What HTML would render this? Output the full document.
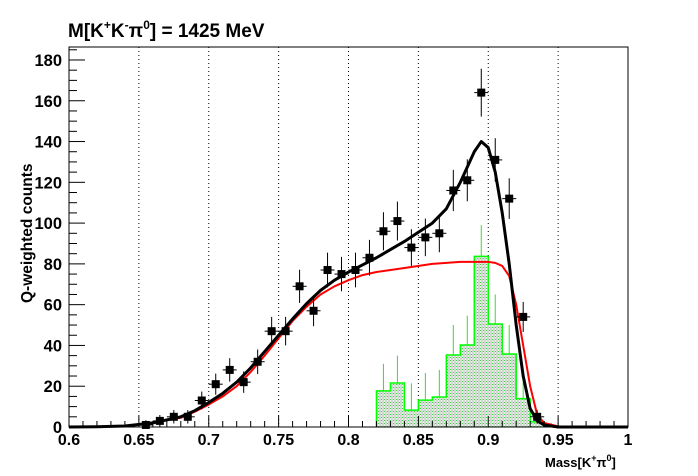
<!DOCTYPE html>
<html><head><style>body{margin:0;background:#fff}svg{display:block}</style></head>
<body>
<svg id="s" width="698" height="476" xmlns="http://www.w3.org/2000/svg" font-family="Liberation Sans, sans-serif" font-weight="bold">
<defs>
<pattern id="h" width="3" height="3" patternUnits="userSpaceOnUse">
<rect width="3" height="3" fill="#e8f4e8"/><rect width="1" height="1" fill="#4c4"/><rect x="1.5" y="1.5" width="1" height="1" fill="#888"/><rect x="1.5" y="0" width="1" height="1" fill="#bbb"/>
</pattern>
</defs>
<rect x="0" y="0" width="698" height="476" fill="#fff"/>
<g id="g"></g>
<text x="68" y="37" font-size="19">M[K<tspan font-size="12" dy="-8">+</tspan><tspan dy="8">K</tspan><tspan font-size="12" dy="-8">-</tspan><tspan dy="8">π</tspan><tspan font-size="12" dy="-8">0</tspan><tspan dy="8">] = 1425 MeV</tspan></text>
<text transform="translate(32,303) rotate(-90)" font-size="15.5">Q-weighted counts</text>
<text x="545" y="467" font-size="13">Mass[K<tspan font-size="9" dy="-6">+</tspan><tspan dy="6">π</tspan><tspan font-size="9" dy="-6">0</tspan><tspan dy="6">]</tspan></text>
</svg>
<script>
const X=v=>69+(v-0.6)*1397.5, Y=v=>427-v*2.039;
let h='';
for(let v of [0.65,0.7,0.75,0.8,0.85,0.9,0.95]) h+=`<line x1="${X(v)}" y1="47" x2="${X(v)}" y2="427" stroke="#000" stroke-dasharray="1,3" stroke-width="1"/>`;
const hb=[17.7,21.6,8.3,13.2,14.7,35.3,40.2,83.7,50.5,35.8,13.9,2.5,0.5];
const he=[31,35,21.4,26.5,28,50,54.6,99,65,50,24,8,2];
let p=`M${X(0.82)},427`;
hb.forEach((v,i)=>{p+=`L${X(0.82+i*0.01)},${Y(v)}L${X(0.83+i*0.01)},${Y(v)}`;});
p+=`L${X(0.95)},427L${X(1)},427`;
h+=`<path d="${p}" fill="url(#h)" stroke="#0f0" stroke-width="1.5"/>`;
hb.forEach((v,i)=>{const x=X(0.825+i*0.01);h+=`<line x1="${x}" y1="${Y(v)}" x2="${x}" y2="${Y(he[i])}" stroke="#3d3" stroke-width="1"/>`;});
const bk=[[0.6,0],[0.62,0.1],[0.64,0.5],[0.66,2],[0.68,5],[0.69,8],[0.70,12],[0.71,16.5],[0.72,22],[0.73,29],[0.74,37],[0.75,45],[0.76,53],[0.77,60.5],[0.78,67],[0.79,72],[0.80,76],[0.81,79.5],[0.82,83],[0.83,87],[0.84,91],[0.85,95.5],[0.86,100],[0.87,107],[0.88,120],[0.89,135],[0.895,140],[0.90,137],[0.905,125],[0.91,105],[0.915,80],[0.92,50],[0.925,25],[0.93,9],[0.935,3],[0.94,1],[0.95,0],[1,0]];
const rd=[[0.6,0],[0.62,0.1],[0.64,0.5],[0.66,2],[0.68,4.5],[0.69,7.5],[0.70,11],[0.71,15],[0.72,20],[0.73,27],[0.74,35],[0.75,43.5],[0.76,52],[0.77,59],[0.78,65],[0.79,69],[0.80,72],[0.81,74.5],[0.82,76],[0.84,78],[0.86,80],[0.88,81],[0.90,81],[0.905,80.5],[0.91,79],[0.915,74],[0.92,60],[0.925,40],[0.93,20],[0.935,6],[0.94,2],[0.95,0.3],[0.99,0]];
const pl=(a,c,w)=>`<polyline points="${a.map(q=>X(q[0])+','+Y(q[1])).join(' ')}" fill="none" stroke="${c}" stroke-width="${w}" stroke-linejoin="round"/>`;
h+=pl(rd,'#f00',2);
h+=pl(bk,'#000',3);
const d=[[0.655,1],[0.665,3],[0.675,5],[0.685,5],[0.695,13],[0.705,21],[0.715,28],[0.725,22],[0.735,32],[0.745,47],[0.755,47],[0.765,69],[0.775,57],[0.785,77],[0.795,75],[0.805,77],[0.815,83],[0.825,96],[0.835,101],[0.845,88],[0.855,93],[0.865,95],[0.875,116],[0.885,121],[0.895,164],[0.905,131],[0.915,112],[0.925,54],[0.935,5]];
d.forEach(([x,v])=>{const e=0.8*Math.sqrt(v)+1.5,cx=X(x),cy=Y(v);
h+=`<line x1="${cx-7}" y1="${cy}" x2="${cx+7}" y2="${cy}" stroke="#000"/><line x1="${cx}" y1="${Y(v+e)}" x2="${cx}" y2="${Y(Math.max(0,v-e))}" stroke="#000"/><rect x="${cx-4}" y="${cy-4}" width="8" height="8" fill="#000"/>`;});
h+=`<rect x="69" y="47" width="559" height="380" fill="none" stroke="#000"/>`;
for(let v=0;v<=185;v+=5){const y=Y(v);h+=`<line x1="69" y1="${y}" x2="${69+(v%20==0?16:8)}" y2="${y}" stroke="#000"/>`;if(v%20==0)h+=`<text x="62" y="${y+6}" font-size="16.5" text-anchor="end">${v}</text>`;}
for(let i=0;i<=40;i++){const v=0.6+i*0.01,x=X(v);h+=`<line x1="${x}" y1="427" x2="${x}" y2="${427-(i%5==0?11:6)}" stroke="#000"/>`;if(i%5==0){let t=(+v.toFixed(2)).toString();h+=`<text x="${x}" y="445" font-size="16" text-anchor="middle">${t}</text>`;}}
document.getElementById('g').innerHTML=h;
</script>
</body></html>
